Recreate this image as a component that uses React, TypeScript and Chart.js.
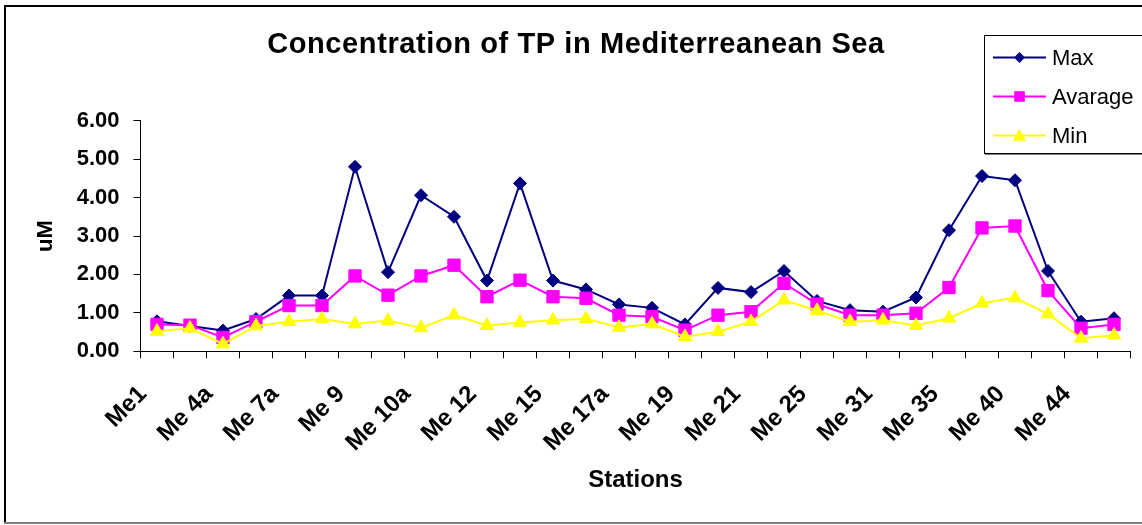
import React, { useEffect, useRef } from 'react';
import { Chart, registerables } from 'chart.js';

Chart.register(...registerables);

const FONT = 'Arial, "Liberation Sans", Helvetica, sans-serif';

const titleText = 'Concentration of TP in Mediterreanean Sea';
const xAxisTitle = 'Stations';
const yAxisTitle = 'uM';

const categories = [
  'Me1', 'Me2', 'Me 4a', 'Me 5', 'Me 7a', 'Me 8', 'Me 9', 'Me 10', 'Me 10a', 'Me 11',
  'Me 12', 'Me 13', 'Me 15', 'Me 16', 'Me 17a', 'Me 18', 'Me 19', 'Me 20', 'Me 21', 'Me 23',
  'Me 25', 'Me 28', 'Me 31', 'Me 33', 'Me 35', 'Me 38', 'Me 40', 'Me 42', 'Me 44', 'Me 46',
];

const seriesNames = ['Max', 'Avarage', 'Min'];

const maxValues = [
  0.78, 0.66, 0.54, 0.84, 1.45, 1.45, 4.80, 2.06, 4.06, 3.50,
  1.84, 4.37, 1.84, 1.61, 1.22, 1.13, 0.70, 1.65, 1.54, 2.09,
  1.31, 1.07, 1.03, 1.40, 3.15, 4.56, 4.45, 2.09, 0.77, 0.86,
];

const avgValues = [
  0.70, 0.68, 0.36, 0.77, 1.19, 1.19, 1.96, 1.46, 1.96, 2.24,
  1.42, 1.85, 1.42, 1.38, 0.94, 0.90, 0.55, 0.94, 1.03, 1.77,
  1.23, 0.94, 0.94, 0.99, 1.66, 3.21, 3.26, 1.58, 0.60, 0.70,
];

const minValues = [
  0.52, 0.60, 0.19, 0.66, 0.77, 0.84, 0.71, 0.80, 0.61, 0.94,
  0.67, 0.75, 0.81, 0.85, 0.62, 0.71, 0.38, 0.51, 0.77, 1.33,
  1.06, 0.77, 0.81, 0.67, 0.86, 1.25, 1.39, 0.97, 0.34, 0.42,
];

const yMin = 0;
const yMax = 6;
const yStep = 1;

const colors = ['#000080', '#FF00FF', '#FFFF00'];
const pointStyles = ['rectRot', 'rect', 'triangle'];

function drawMarker(ctx: CanvasRenderingContext2D, style: string, x: number, y: number, r: number, color: string) {
  ctx.fillStyle = color;
  ctx.beginPath();
  if (style === 'rectRot') {
    ctx.moveTo(x, y - r);
    ctx.lineTo(x + r, y);
    ctx.lineTo(x, y + r);
    ctx.lineTo(x - r, y);
  } else if (style === 'rect') {
    ctx.rect(x - r, y - r, 2 * r, 2 * r);
  } else {
    ctx.moveTo(x, y - r);
    ctx.lineTo(x + r * 1.05, y + r * 0.8);
    ctx.lineTo(x - r * 1.05, y + r * 0.8);
  }
  ctx.closePath();
  ctx.fill();
}

const decorPlugin = {
  id: 'decor',
  beforeDraw(chart: any) {
    const ctx = chart.ctx as CanvasRenderingContext2D;
    const w = chart.width;
    const h = chart.height;
    ctx.save();
    ctx.fillStyle = '#ffffff';
    ctx.fillRect(0, 0, w, h);
    // outer chart border
    ctx.strokeStyle = '#000000';
    ctx.lineWidth = 2;
    ctx.beginPath();
    ctx.moveTo(5, 523);
    ctx.lineTo(5, 6);
    ctx.lineTo(w + 2, 6);
    ctx.stroke();
    ctx.strokeStyle = '#808080';
    ctx.beginPath();
    ctx.moveTo(4, 523);
    ctx.lineTo(w + 2, 523);
    ctx.stroke();
    // title
    ctx.fillStyle = '#000000';
    ctx.font = `bold 29px ${FONT}`;
    (ctx as any).letterSpacing = '0.6px';
    ctx.textAlign = 'center';
    ctx.textBaseline = 'middle';
    ctx.fillText(titleText, 576, 45);
    (ctx as any).letterSpacing = '0px';
    ctx.restore();
  },
  afterDraw(chart: any) {
    const ctx = chart.ctx as CanvasRenderingContext2D;
    ctx.save();
    // legend box
    ctx.fillStyle = '#ffffff';
    ctx.fillRect(984, 35, 170, 119);
    ctx.strokeStyle = '#000000';
    ctx.lineWidth = 1;
    ctx.strokeRect(984.5, 35.5, 170, 118);
    ctx.strokeStyle = '#808080';
    ctx.beginPath();
    ctx.moveTo(985, 154.5);
    ctx.lineTo(1150, 154.5);
    ctx.stroke();
    const ds = chart.data.datasets;
    seriesNames.forEach((name, i) => {
      const y = 57.5 + i * 39;
      const col = ds[i].borderColor as string;
      ctx.strokeStyle = col;
      ctx.lineWidth = 2;
      ctx.beginPath();
      ctx.moveTo(993, y);
      ctx.lineTo(1046, y);
      ctx.stroke();
      const st = ds[i].pointStyle as string;
      drawMarker(ctx, st, 1019.5, y, st === 'rect' ? 5.3 : st === 'rectRot' ? 5.5 : 6.5, col);
      ctx.fillStyle = '#000000';
      ctx.font = `22px ${FONT}`;
      ctx.textAlign = 'left';
      ctx.textBaseline = 'middle';
      ctx.fillText(name, 1052, y + 1);
    });
    ctx.restore();
  },
};

export default function App() {
  const canvasRef = useRef<HTMLCanvasElement | null>(null);

  useEffect(() => {
    document.body.style.margin = '0';
    const canvas = canvasRef.current;
    if (!canvas) return;
    const seriesValues = [maxValues, avgValues, minValues];
    const radii = [6.5, 8.7, 7.7];
    const chart = new Chart(canvas, {
      type: 'line',
      data: {
        labels: categories,
        datasets: seriesNames.map((name, i) => ({
          label: name,
          data: seriesValues[i],
          borderColor: colors[i],
          backgroundColor: colors[i],
          pointBackgroundColor: colors[i],
          pointBorderColor: colors[i],
          pointBorderWidth: 1,
          pointStyle: pointStyles[i] as any,
          pointRadius: radii[i],
          pointHoverRadius: radii[i],
          borderWidth: 2,
          tension: 0,
          fill: false,
          order: 3 - i,
        })),
      },
      options: {
        responsive: false,
        animation: false,
        devicePixelRatio: 1,
        events: [],
        layout: { padding: { left: 0, right: 11.5, top: 120.7, bottom: 0 } },
        plugins: {
          legend: { display: false },
          title: { display: false },
          tooltip: { enabled: false },
        },
        scales: {
          x: {
            type: 'category',
            offset: true,
            grid: {
              offset: true,
              drawOnChartArea: false,
              drawTicks: true,
              tickLength: 7,
              color: '#000000',
            },
            border: { display: true, color: '#000000', width: 1 },
            ticks: {
              autoSkip: false,
              minRotation: 45,
              maxRotation: 45,
              padding: 22,
              labelOffset: -14,
              color: '#000000',
              font: { family: FONT, size: 24, weight: 'bold' },
              callback: (_v: any, idx: number) => (idx % 2 === 0 ? categories[idx] : ''),
            },
            title: {
              display: true,
              text: xAxisTitle,
              color: '#000000',
              font: { family: FONT, size: 24, weight: 'bold' },
              padding: { top: 0, bottom: 30 },
            },
            afterFit: (scale: any) => {
              scale.height = 173.7;
              scale.paddingLeft = 0;
              scale.paddingRight = 0;
            },
          },
          y: {
            min: yMin,
            max: yMax,
            grid: {
              drawOnChartArea: false,
              drawTicks: true,
              tickLength: 7,
              color: '#000000',
            },
            border: { display: true, color: '#000000', width: 1 },
            ticks: {
              stepSize: yStep,
              padding: 14,
              color: '#000000',
              font: { family: FONT, size: 22, weight: 'bold' },
              callback: (v: any) => Number(v).toFixed(2),
            },
            title: {
              display: true,
              text: yAxisTitle,
              color: '#000000',
              font: { family: FONT, size: 22, weight: 'bold' },
              padding: { top: 33, bottom: 0 },
            },
            afterFit: (scale: any) => {
              scale.width = 140.5;
            },
          },
        },
      },
      plugins: [decorPlugin],
    });
    return () => chart.destroy();
  }, []);

  return (
    <div style={{ width: 1142, height: 525 }}>
      <canvas ref={canvasRef} width={1142} height={525} style={{ display: 'block' }} />
    </div>
  );
}
